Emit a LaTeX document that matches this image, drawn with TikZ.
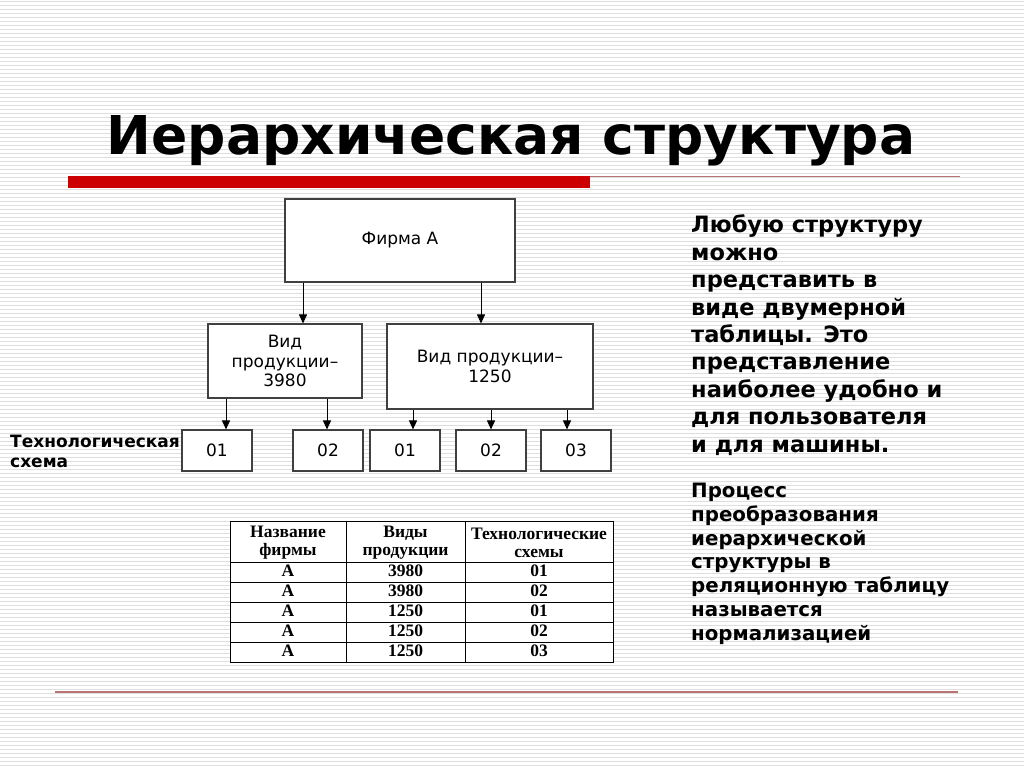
\documentclass[tikz,border=0pt]{standalone}
\usepackage{fontspec}
\setmainfont{DejaVu Sans}
\newfontfamily\tabfont{Liberation Serif}
\usetikzlibrary{arrows.meta}
\definecolor{stripegray}{HTML}{DEDEDE}
\definecolor{barred}{HTML}{CC0000}
\definecolor{linered}{HTML}{B87474}
\definecolor{boxline}{HTML}{404040}
\begin{document}
\begin{tikzpicture}[x=1pt,y=-1pt,
  box/.style={draw=boxline, line width=1.1pt, fill=white, inner sep=0pt, font=\fontsize{17}{19.5}\selectfont, align=center},
  leaf/.style={box, minimum width=70pt, minimum height=41pt},
  arr/.style={-{Triangle[length=9pt,width=8pt]}, line width=0.9pt, black},
  cell/.style={font=\tabfont\bfseries\fontsize{17.5}{18}\selectfont, inner sep=0pt, align=center},
  tabline/.style={line width=0.9pt, black},
  stripe/.style={stripegray, line width=1.4pt},
  ]
\useasboundingbox (0,0) rectangle (1024,768);
\fill[white] (0,0) rectangle (1024,768);
\foreach \i in {0,...,191} \draw[stripe] (0,\i*4+1.5) -- (1024,\i*4+1.5);
% title and rules
\node[font=\bfseries\fontsize{53.5}{60}\selectfont, anchor=base, inner sep=0pt] (title) at (511,154) {Иерархическая структура};
\fill[barred] (68,175.5) rectangle (590,188);
\draw[linered, line width=1.6pt] (590,176.5) -- (960,176.5);
\draw[linered, line width=2pt] (55,692) -- (958,692);
% hierarchy
\node[box, minimum width=230pt, minimum height=83pt] (firm) at (400,240.5) {Фирма А};
\node[box, minimum width=154pt, minimum height=74pt] (v3980) at (285,361) {Вид\\продукции–\\3980};
\node[box, minimum width=206pt, minimum height=85pt] (v1250) at (490,366.5) {Вид продукции–\\1250};
\node[leaf] (l1) at (217,450.5) {01};
\node[leaf] (l2) at (328,450.5) {02};
\node[leaf] (l3) at (405,450.5) {01};
\node[leaf] (l4) at (491,450.5) {02};
\node[leaf] (l5) at (576,450.5) {03};
\draw[arr] ([xshift=-97pt]firm.south) -- ([xshift=-97pt]firm.south |- v3980.north);
\draw[arr] ([xshift=81pt]firm.south) -- ([xshift=81pt]firm.south |- v1250.north);
\draw[arr] ([xshift=-59pt]v3980.south) -- ([xshift=-59pt]v3980.south |- l1.north);
\draw[arr] ([xshift=42pt]v3980.south) -- ([xshift=42pt]v3980.south |- l2.north);
\draw[arr] ([xshift=-77pt]v1250.south) -- ([xshift=-77pt]v1250.south |- l3.north);
\draw[arr] ([xshift=1pt]v1250.south) -- ([xshift=1pt]v1250.south |- l4.north);
\draw[arr] ([xshift=77pt]v1250.south) -- ([xshift=77pt]v1250.south |- l5.north);
\node[font=\bfseries\fontsize{17}{20}\selectfont, align=left, anchor=base west, inner sep=0pt] (tech) at (10,467) {Технологическая\\схема};
% table
\fill[white] (230,521) rectangle (613,662);
\draw[tabline] (230,521) rectangle (613,662);
\foreach \x in {346,465} \draw[tabline] (\x,521) -- (\x,662);
\foreach \y in {562,582,602,622,642} \draw[tabline] (230,\y) -- (613,\y);
\node[cell] (h1) at (288,543) {Название\\фирмы};
\node[cell] (h2) at (405.5,543) {Виды\\продукции};
\node[cell] (h3) at (539,543) {Технологические\\схемы};
\foreach \p/\s [count=\k] in {3980/01, 3980/02, 1250/01, 1250/02, 1250/03}{
  \node[cell] (r\k a) at (288,551+\k*20) {А};
  \node[cell] (r\k b) at (405.5,551+\k*20) {\p};
  \node[cell] (r\k c) at (539,551+\k*20) {\s};
}
% right text
\node[anchor=base west, align=left, inner sep=0pt, font=\bfseries\fontsize{22.5}{27.4}\selectfont] (p1) at (691,452) {Любую структуру\\можно\\представить в\\виде двумерной\\таблицы. Это\\представление\\наиболее удобно и\\для пользователя\\и для машины.};
\node[anchor=base west, align=left, inner sep=0pt, font=\bfseries\fontsize{19.8}{23.7}\selectfont] (p2) at (691,640) {Процесс\\преобразования\\иерархической\\структуры в\\реляционную таблицу\\называется\\нормализацией};
\end{tikzpicture}
\end{document}
